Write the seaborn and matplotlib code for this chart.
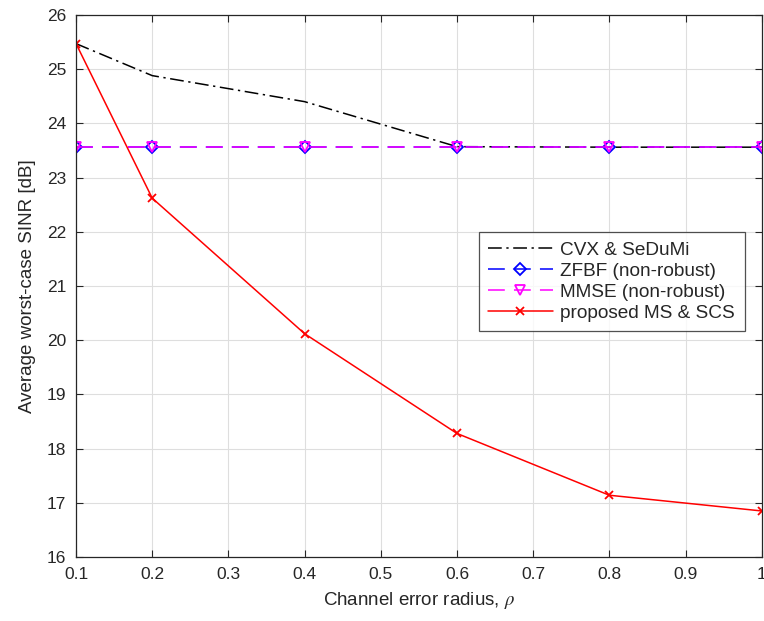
import numpy as np
import pandas as pd
import matplotlib
matplotlib.use("Agg")
import matplotlib.pyplot as plt
import seaborn as sns

# channel error radius
rho = [0.1, 0.2, 0.4, 0.6, 0.8, 1.0]

# average worst-case SINR [dB]
sinr_cvx = [25.47, 24.88, 24.40, 23.57, 23.56, 23.56]
sinr_zfbf = [23.57, 23.57, 23.57, 23.57, 23.57, 23.57]
sinr_mmse = [23.56, 23.56, 23.56, 23.56, 23.56, 23.56]
sinr_prop = [25.47, 22.62, 20.12, 18.28, 17.14, 16.85]

labels = ["CVX & SeDuMi", "ZFBF (non-robust)", "MMSE (non-robust)", "proposed MS & SCS"]
y_ticks = list(range(16, 27))
x_ticks = [0.1, 0.2, 0.3, 0.4, 0.5, 0.6, 0.7, 0.8, 0.9, 1.0]
x_ticklabels = ["0.1", "0.2", "0.3", "0.4", "0.5", "0.6", "0.7", "0.8", "0.9", "1"]

sns.set_style("whitegrid")
plt.rcParams['font.family'] = ['Liberation Sans', 'DejaVu Sans']
plt.rcParams['mathtext.fontset'] = 'stix'

fig = plt.figure(figsize=(7.64, 6.21), dpi=100)
ax = fig.add_axes([0.0995, 0.103, 0.8975, 0.873])

# draw each series through seaborn
sns.lineplot(x=rho, y=sinr_cvx, ax=ax, color="black", linewidth=1.1,
             linestyle=(0, (9, 3, 1.5, 3)), label=labels[0])
sns.lineplot(x=rho, y=sinr_zfbf, ax=ax, color="blue", linewidth=1.1,
             linestyle=(0, (11, 6)), marker="D", markersize=6.5,
             markerfacecolor="none", markeredgecolor="blue", markeredgewidth=1.3,
             label=labels[1])
sns.lineplot(x=rho, y=sinr_mmse, ax=ax, color="magenta", linewidth=1.1,
             linestyle=(0, (11, 6)), marker="v", markersize=7,
             markerfacecolor="none", markeredgecolor="magenta", markeredgewidth=1.3,
             label=labels[2])
sns.lineplot(x=rho, y=sinr_prop, ax=ax, color="red", linewidth=1.1,
             marker="x", markersize=6, markeredgewidth=1.3, markeredgecolor="red",
             label=labels[3])

ax.set_xlim(0.1, 1.0)
ax.set_ylim(16, 26)
ax.set_xticks(x_ticks)
ax.set_xticklabels(x_ticklabels)
ax.set_yticks(y_ticks)

ax.grid(True, color="#dedede", linewidth=0.8)
for s in ax.spines.values():
    s.set_visible(True)
    s.set_color("#262626")
    s.set_linewidth(0.9)

ax.tick_params(axis="both", direction="in", length=5, width=0.8, color="#262626",
               labelsize=12.5, labelcolor="#262626", top=True, right=True,
               bottom=True, left=True, pad=7)

ax.set_xlabel(r"Channel error radius, $\rho$", fontsize=13.5, color="#262626", labelpad=6)
ax.set_ylabel("Average worst-case SINR [dB]", fontsize=13.5, color="#262626", labelpad=8)

leg = ax.legend(loc="upper left", bbox_to_anchor=(0.587, 0.6), fontsize=13.7,
                frameon=True, fancybox=False, edgecolor="#262626",
                handlelength=3.4, borderpad=0.5, labelspacing=0.2,
                handletextpad=0.4, borderaxespad=0)
leg.get_frame().set_linewidth(0.9)

fig.savefig("out.png", dpi=100)
